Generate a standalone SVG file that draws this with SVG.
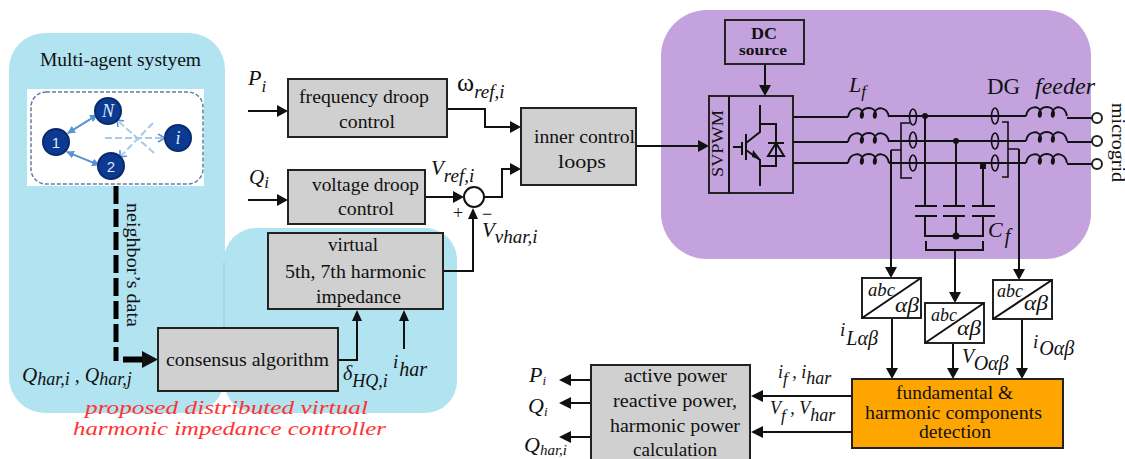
<svg xmlns="http://www.w3.org/2000/svg" width="1125" height="459" viewBox="0 0 1125 459">
<style>
.t{font-family:"Liberation Serif",serif;font-size:18px;fill:#111;text-anchor:start}
.i{font-family:"Liberation Serif",serif;font-style:italic;fill:#111}
.b{fill:#d0d0d0;stroke:#222;stroke-width:2}
.l{fill:none;stroke:#111;stroke-width:2}
.w{fill:#fff;stroke:#222;stroke-width:2}
.c{fill:#0d3a91;stroke:#0a2a70;stroke-width:2}
.n{font-family:"Liberation Sans",sans-serif;font-size:15px;fill:#dfe9f7;text-anchor:middle}
.s{font-family:"Liberation Serif",serif;font-style:italic;font-size:18px;fill:#dfe9f7;text-anchor:middle}
.a{fill:none;stroke:#5b93d3;stroke-width:1.6}
.d{fill:none;stroke:#a9c8ea;stroke-width:2;stroke-dasharray:7 3}
.r{font-family:"Liberation Serif",serif;font-style:italic;font-size:19px;fill:#f33;text-anchor:start}
.o{fill:#111}
</style>
<defs>
<marker id="ah" markerWidth="8" markerHeight="8" refX="7" refY="4" orient="auto" markerUnits="userSpaceOnUse"><path d="M0 0L8 4L0 8Z" fill="#5b93d3"/></marker>
<path id="ind" d="M0 0C2-11 14-11 15-3C15 2 12 2 13-3C15-11 27-11 28-3C28 2 25 2 26-3C28-11 39-11 41 0" fill="none" stroke="#111" stroke-width="2"/>
</defs>

<g id="panels">
<rect x="9" y="33" width="216" height="380" rx="36" fill="#b1e3f1"/>
<rect x="224" y="228" width="233" height="185" rx="32" fill="#b1e3f1"/>
<path d="M224 262V328" stroke="#8fd0e4" stroke-width="1" fill="none"/>
<rect x="661" y="10" width="430" height="249" rx="46" fill="#c3a2de"/>
</g>

<g id="multi-agent">
<text x="40" y="66" class="t" textLength="161" lengthAdjust="spacingAndGlyphs">Multi-agent systyem</text>
<rect x="27" y="89" width="177" height="97" fill="#fff"/>
<rect x="31" y="92" width="172" height="92" rx="15" fill="none" stroke="#5d7fa8" stroke-width="1.5" stroke-dasharray="4 2"/>
<path class="a" d="M68 133L97 115" marker-end="url(#ah)"/><path class="a" d="M97 115L68 133" marker-end="url(#ah)"/>
<path class="a" d="M67 152L99 165" marker-end="url(#ah)"/><path class="a" d="M99 165L67 152" marker-end="url(#ah)"/>
<path class="d" d="M105 138H165"/><path class="d" d="M153 123L120 157"/><path class="d" d="M154 153L117 120"/>
<path d="M158 134L165 138L158 142M118 127L117 120L124 121M120 150L120 157L127 156" fill="none" stroke="#5b93d3" stroke-width="1.6"/>
<circle class="c" cx="108" cy="111" r="13"/><text x="108" y="117" class="s">N</text>
<circle class="c" cx="56" cy="142" r="13"/><text x="56" y="148" class="n">1</text>
<circle class="c" cx="111" cy="166" r="13"/><text x="111" y="172" class="n">2</text>
<circle class="c" cx="178" cy="138" r="13"/><text x="178" y="144" class="s">i</text>
</g>

<g id="connectors">
<path d="M116 186V361" fill="none" stroke="#000" stroke-width="5" stroke-dasharray="18 5"/>
<path d="M123 359.500H144" stroke="#000" stroke-width="6" fill="none"/><path class="o" d="M142 351L158 359.500L142 368Z"/>
<path class="l" d="M338 360H357V321"/><path class="o" d="M352 321L357 310L362 321Z"/>
<path class="l" d="M404 349V321"/><path class="o" d="M399 321L404 310L409 321Z"/>
<path class="l" d="M443 271H473V218"/><path class="o" d="M468 219L473 208L478 219Z"/>
<path class="l" d="M248 111H278"/><path class="o" d="M277 105L288 111L277 117Z"/>
<path class="l" d="M248 200H278"/><path class="o" d="M277 194L288 200L277 206Z"/>
<path class="l" d="M447 109H485V127H512"/><path class="o" d="M510 121L521 127L510 133Z"/>
<path class="l" d="M425 197H455"/><path class="o" d="M453 191L464 197L453 203Z"/>
<path class="l" d="M484 197H502V169H512"/><path class="o" d="M510 163L521 169L510 175Z"/>
<circle cx="474" cy="197" r="10" fill="#fff" stroke="#111" stroke-width="2"/>
<path class="l" d="M636 146H699"/><path class="o" d="M698 140L709 146L698 152Z"/>
<path class="l" d="M765 64V87"/><path class="o" d="M759 85L765 96L771 85Z"/>
<path class="l" d="M891 150V270"/><path class="o" d="M885 267L891 278L897 267Z"/>
<path class="l" d="M955 250V293"/><path class="o" d="M949 292L955 303L961 292Z"/>
<path class="l" d="M1019 149V270"/><path class="o" d="M1013 269L1019 280L1025 269Z"/>
<path class="l" d="M892 318V369"/><path class="o" d="M886 368L892 379L898 368Z"/>
<path class="l" d="M953 343V369"/><path class="o" d="M947 368L953 379L959 368Z"/>
<path class="l" d="M1022 320V369"/><path class="o" d="M1016 368L1022 379L1028 368Z"/>
<path class="l" d="M852 396H760"/><path class="o" d="M763 390L751 396L763 402Z"/>
<path class="l" d="M852 432H760"/><path class="o" d="M763 426L751 432L763 438Z"/>
<path class="l" d="M591 380H570"/><path class="o" d="M571 374L559 380L571 386Z"/>
<path class="l" d="M591 403H570"/><path class="o" d="M571 397L559 403L571 409Z"/>
<path class="l" d="M591 437H570"/><path class="o" d="M571 431L559 437L571 443Z"/>
</g>

<g id="freq"><rect class="b" x="288" y="79" width="159" height="58"/><text x="299" y="103" class="t" textLength="130" lengthAdjust="spacingAndGlyphs">frequency droop</text><text x="339" y="128" class="t" textLength="56" lengthAdjust="spacingAndGlyphs">control</text></g>
<g id="volt"><rect class="b" x="288" y="170" width="137" height="54"/><text x="312" y="191" class="t" textLength="107" lengthAdjust="spacingAndGlyphs">voltage droop</text><text x="338" y="215" class="t" textLength="56" lengthAdjust="spacingAndGlyphs">control</text></g>
<g id="virtual"><rect class="b" x="268" y="233" width="175" height="76"/><text x="328" y="251" class="t" textLength="50" lengthAdjust="spacingAndGlyphs">virtual</text><text x="285" y="278" class="t" textLength="141" lengthAdjust="spacingAndGlyphs">5th, 7th harmonic</text><text x="316" y="303" class="t" textLength="85" lengthAdjust="spacingAndGlyphs">impedance</text></g>
<g id="consensus"><rect class="b" x="158" y="328" width="180" height="63"/><text x="166" y="366" class="t" textLength="163" lengthAdjust="spacingAndGlyphs">consensus algorithm</text></g>
<g id="inner"><rect class="b" x="521" y="108" width="115" height="77"/><text x="534" y="143" class="t" textLength="101" lengthAdjust="spacingAndGlyphs">inner control</text><text x="558" y="168" class="t" textLength="48" lengthAdjust="spacingAndGlyphs">loops</text></g>
<g id="dc"><rect x="725" y="20" width="79" height="44" fill="none" stroke="#222" stroke-width="2"/><text x="751" y="39" class="t" style="font-size:16px;font-weight:bold" textLength="26" lengthAdjust="spacingAndGlyphs">DC</text><text x="739" y="55" class="t" style="font-size:15px;font-weight:bold" textLength="48" lengthAdjust="spacingAndGlyphs">source</text></g>

<g id="converter">
<rect x="709" y="96" width="84" height="97" fill="none" stroke="#222" stroke-width="2"/>
<path class="l" d="M729 96V193"/>
<text transform="translate(723 177) rotate(-90)" class="t" style="font-size:17px" textLength="67" lengthAdjust="spacingAndGlyphs">SVPWM</text>
<path class="l" d="M760 105V132L746 143M746 134V160M733 147H742M742 142V155M746 150L760 160V186M760 124H776V166H760M768 143H784M776 143L768 156H784Z"/>
<path class="o" d="M752 157L753 150L761 160Z"/>
</g>

<g id="lines">
<path class="l" d="M793 117H848M793 142H848M793 163H848"/>
<use href="#ind" x="848" y="117"/><use href="#ind" x="848" y="142"/><use href="#ind" x="848" y="163"/>
<path class="l" d="M889 116H1026M889 141H1026M889 163H1026"/>
<use href="#ind" x="1026" y="116"/><use href="#ind" x="1026" y="141"/><use href="#ind" x="1026" y="163"/>
<path class="l" d="M1067 118H1092M1067 142H1092M1067 164H1092"/>
<circle cx="1097" cy="118" r="5" class="w"/><circle cx="1097" cy="141" r="5" class="w"/><circle cx="1097" cy="164" r="5" class="w"/>
<g fill="none" stroke="#111" stroke-width="1.6">
<ellipse cx="913" cy="117" rx="3.500" ry="8"/><ellipse cx="913" cy="140" rx="3.500" ry="8"/><ellipse cx="913" cy="163" rx="3.500" ry="8"/>
<ellipse cx="995" cy="116" rx="3.500" ry="8"/><ellipse cx="995" cy="141" rx="3.500" ry="8"/><ellipse cx="995" cy="163" rx="3.500" ry="8"/>
<path d="M910 123H901V178H912M891 150H901M1002 122H1008V177H1002M1008 149H1019"/>
</g>
<path class="l" d="M925 116V206M956 141V206M983 163V206"/>
<circle cx="925" cy="116" r="3" class="o"/><circle cx="956" cy="141" r="3" class="o"/><rect x="980" y="163" width="6" height="6" class="o"/>
<path class="l" d="M915 206H937M915 216H937M943 206H965M943 216H965M972 206H995M972 216H995M925 216V236H983V216M956 216V236"/>
<circle cx="956" cy="236" r="3.500" class="o"/>
<path class="l" d="M926 241V250H983V241M955 250V270"/>
</g>

<g id="abc1"><rect class="w" x="862" y="278" width="59" height="40"/><path class="l" d="M862 318L921 278"/><text x="868" y="296" class="i" font-size="19" textLength="27" lengthAdjust="spacingAndGlyphs">abc</text><text x="895" y="312" class="i" font-size="20" textLength="24" lengthAdjust="spacingAndGlyphs">αβ</text></g>
<g id="abc2"><rect class="w" x="925" y="303" width="59" height="40"/><path class="l" d="M925 343L984 303"/><text x="931" y="321" class="i" font-size="19" textLength="26" lengthAdjust="spacingAndGlyphs">abc</text><text x="957" y="335" class="i" font-size="20" textLength="24" lengthAdjust="spacingAndGlyphs">αβ</text></g>
<g id="abc3"><rect class="w" x="993" y="280" width="59" height="39"/><path class="l" d="M993 319L1052 280"/><text x="997" y="297" class="i" font-size="19" textLength="26" lengthAdjust="spacingAndGlyphs">abc</text><text x="1024" y="310" class="i" font-size="20" textLength="24" lengthAdjust="spacingAndGlyphs">αβ</text></g>

<g id="detect"><rect x="852" y="379" width="211" height="69" fill="#ffa500" stroke="#222" stroke-width="2"/><text x="896" y="399" class="t" textLength="117" lengthAdjust="spacingAndGlyphs">fundamental &amp;</text><text x="865" y="419" class="t" textLength="177" lengthAdjust="spacingAndGlyphs">harmonic components</text><text x="919" y="438" class="t" textLength="72" lengthAdjust="spacingAndGlyphs">detection</text></g>
<g id="calc"><rect class="b" x="591" y="365" width="159" height="100"/><text x="624" y="382" class="t" textLength="103" lengthAdjust="spacingAndGlyphs">active power</text><text x="613" y="407" class="t" textLength="124" lengthAdjust="spacingAndGlyphs">reactive power,</text><text x="610" y="432" class="t" textLength="130" lengthAdjust="spacingAndGlyphs">harmonic power</text><text x="633" y="456" class="t" textLength="84" lengthAdjust="spacingAndGlyphs">calculation</text></g>

<g id="labels">
<text transform="translate(127 203) rotate(90)" class="t" textLength="124" lengthAdjust="spacingAndGlyphs">neighbor’s data</text>
<text x="22" y="382" class="i" font-size="21">Q<tspan font-size="18" dy="3">har,i</tspan><tspan dy="-3" font-size="20"> , Q</tspan><tspan font-size="18" dy="3">har,j</tspan></text>
<text x="343" y="380" class="i" font-size="20">δ<tspan font-size="18" dy="7">HQ,i</tspan></text>
<text x="393" y="368" class="i" font-size="19">i<tspan font-size="20" dy="8" dx="1">har</tspan></text>
<text x="85" y="414" class="r" textLength="283" lengthAdjust="spacingAndGlyphs">proposed distributed virtual</text>
<text x="73" y="435" class="r" textLength="313" lengthAdjust="spacingAndGlyphs">harmonic impedance controller</text>
<text x="248" y="85" class="i" font-size="22">P<tspan font-size="17" dy="7">i</tspan></text>
<text x="249" y="184" class="i" font-size="21">Q<tspan font-size="17" dy="4">i</tspan></text>
<text x="457" y="91" class="i" font-size="26" style="font-style:normal">ω<tspan font-size="19" font-style="italic" dy="7">ref,i</tspan></text>
<text x="431" y="175" class="i" font-size="21">V<tspan font-size="19" dy="7">ref,i</tspan></text>
<text x="453" y="219" class="t" style="font-size:18px">+</text><text x="482" y="220" class="t" style="font-size:18px">−</text>
<text x="482" y="237" class="i" font-size="21">V<tspan font-size="19" dy="6">vhar,i</tspan></text>
<text x="849" y="92" class="i" font-size="22">L<tspan font-size="17" dy="5">f</tspan></text>
<text x="987" y="94" class="t" style="font-size:23px">DG</text>
<text x="1035" y="94" class="i" font-size="24">feeder</text>
<text x="988" y="237" class="i" font-size="22">C<tspan font-size="20" dy="6" dx="2">f</tspan></text>
<text transform="translate(1112 103) rotate(90)" class="t" textLength="79" lengthAdjust="spacingAndGlyphs">microgrid</text>
<text x="840" y="336" class="i" font-size="19">i<tspan font-size="20" dy="9" dx="1">Lαβ</tspan></text>
<text x="962" y="363" class="i" font-size="20">V<tspan font-size="20" dy="7">Oαβ</tspan></text>
<text x="1033" y="348" class="i" font-size="19">i<tspan font-size="20" dy="7" dx="1">Oαβ</tspan></text>
<text x="778" y="378" class="i" font-size="18">i<tspan font-size="17" dy="6">f</tspan><tspan dy="-6" font-size="18"> , i</tspan><tspan font-size="18" dy="6">har</tspan></text>
<text x="770" y="414" class="i" font-size="18">V<tspan font-size="17" dy="7">f</tspan><tspan dy="-7" font-size="18"> , V</tspan><tspan font-size="18" dy="7">har</tspan></text>
<text x="529" y="382" class="i" font-size="22">P<tspan font-size="13" dy="3">i</tspan></text>
<text x="528" y="413" class="i" font-size="22">Q<tspan font-size="13" dy="3">i</tspan></text>
<text x="524" y="452" class="i" font-size="22">Q<tspan font-size="15" dy="3">har,i</tspan></text>
</g>
</svg>
